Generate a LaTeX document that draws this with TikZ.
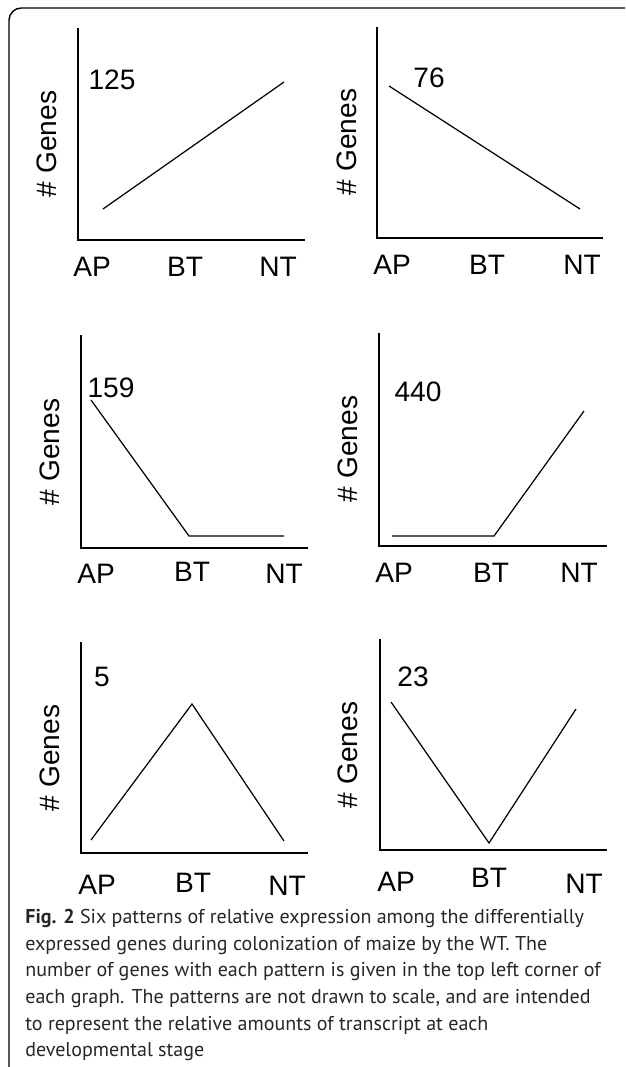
\documentclass[tikz,border=0pt]{standalone}
\usepackage{fontspec}
\setmainfont{Liberation Sans}
\newfontfamily\capfont{PT Sans}
\begin{document}
\begin{tikzpicture}[x=0.02cm,y=-0.02cm]
\tikzstyle{every node}=[inner sep=0pt,font=\fontsize{16}{19}\selectfont];
\tikzstyle{axis}=[line width=0.85pt];
\tikzstyle{curve}=[line width=0.7pt];
\tikzstyle{caption}=[anchor=base west,text=black!85,font=\capfont\fontsize{11.4}{15}\selectfont];
\useasboundingbox (0,0) rectangle (625,1067);
% frame
\coordinate (fb) at (9,1067);
\coordinate (fc) at (9,8);
\coordinate (fr) at (625,8);
\draw[line width=0.8pt,rounded corners=7pt] (fb) -- (fc) -- (fr);
% top left: 125
\coordinate (o1) at (78,240);
\coordinate (t1) at (78,28);
\coordinate (e1) at (305,240);
\draw[axis] (t1) -- (o1) -- (e1);
\coordinate (p1a) at (103,209);
\coordinate (p1c) at (284,82);
\draw[curve] (p1a) -- (p1c);
\node (n1) at (112,80) {125};
\node[rotate=90] (g1) at (47,144) {\# Genes};
\node (ap1) at (92,267) {AP};
\node (bt1) at (185,267) {BT};
\node (nt1) at (278,267) {NT};
% top right: 76
\coordinate (o2) at (377,238);
\coordinate (t2) at (377,27);
\coordinate (e2) at (603,238);
\draw[axis] (t2) -- (o2) -- (e2);
\coordinate (p2a) at (389,86);
\coordinate (p2c) at (580,209);
\draw[curve] (p2a) -- (p2c);
\node (n2) at (429,78) {76};
\node[rotate=90] (g2) at (347,142) {\# Genes};
\node (ap2) at (392,265) {AP};
\node (bt2) at (487,265) {BT};
\node (nt2) at (582,265) {NT};
% middle left: 159
\coordinate (o3) at (81,548);
\coordinate (t3) at (81,335);
\coordinate (e3) at (308,548);
\draw[axis] (t3) -- (o3) -- (e3);
\coordinate (p3a) at (91,400);
\coordinate (p3b) at (189,536);
\coordinate (p3c) at (284,536);
\draw[curve] (p3a) -- (p3b) -- (p3c);
\node (n3) at (111,388) {159};
\node[rotate=90] (g3) at (50,452) {\# Genes};
\node (ap3) at (96,574) {AP};
\node (bt3) at (192,572) {BT};
\node (nt3) at (284,574) {NT};
% middle right: 440
\coordinate (o4) at (379,546);
\coordinate (t4) at (379,333);
\coordinate (e4) at (607,546);
\draw[axis] (t4) -- (o4) -- (e4);
\coordinate (p4a) at (392,536);
\coordinate (p4b) at (494,536);
\coordinate (p4c) at (584,411);
\draw[curve] (p4a) -- (p4b) -- (p4c);
\node (n4) at (418,392) {440};
\node[rotate=90] (g4) at (348,449) {\# Genes};
\node (ap4) at (394,573) {AP};
\node (bt4) at (491,573) {BT};
\node (nt4) at (579,573) {NT};
% bottom left: 5
\coordinate (o5) at (81,853);
\coordinate (t5) at (81,642);
\coordinate (e5) at (308,853);
\draw[axis] (t5) -- (o5) -- (e5);
\coordinate (p5a) at (91,840);
\coordinate (p5b) at (192,704);
\coordinate (p5c) at (284,841);
\draw[curve] (p5a) -- (p5b) -- (p5c);
\node (n5) at (102,677) {5};
\node[rotate=90] (g5) at (50,758) {\# Genes};
\node (ap5) at (97,885) {AP};
\node (bt5) at (193,883) {BT};
\node (nt5) at (287,886) {NT};
% bottom right: 23
\coordinate (o6) at (380,850);
\coordinate (t6) at (380,639);
\coordinate (e6) at (607,850);
\draw[axis] (t6) -- (o6) -- (e6);
\coordinate (p6a) at (391,702);
\coordinate (p6b) at (489,843);
\coordinate (p6c) at (576,709);
\draw[curve] (p6a) -- (p6b) -- (p6c);
\node (n6) at (413,677) {23};
\node[rotate=90] (g6) at (348,755) {\# Genes};
\node (ap6) at (396,882) {AP};
\node (bt6) at (489,878) {BT};
\node (nt6) at (584,884) {NT};
% caption
\node[caption] (cap1) at (25,923) {\textbf{Fig. 2} Six patterns of relative expression among the differentially};
\node[caption] (cap2) at (25,950) {expressed genes during colonization of maize by the WT. The};
\node[caption] (cap3) at (25,976) {number of genes with each pattern is given in the top left corner of};
\node[caption] (cap4) at (25,1003) {each graph. The patterns are not drawn to scale, and are intended};
\node[caption] (cap5) at (25,1030) {to represent the relative amounts of transcript at each};
\node[caption] (cap6) at (25,1056) {developmental stage};
\end{tikzpicture}
\end{document}
